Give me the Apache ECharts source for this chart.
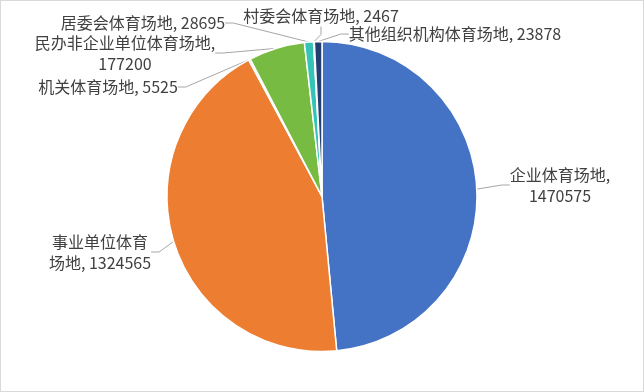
<!DOCTYPE html>
<html><head><meta charset="utf-8">
<script src="https://cdn.jsdelivr.net/npm/echarts@6/dist/echarts.min.js"></script>
<style>html,body{margin:0;padding:0;background:#fff}#c{width:642px;height:390px;border:1px solid #D9D9D9}</style>
</head><body><div id="c"></div>
<script>
const categories = ['企业体育场地','事业单位体育场地','机关体育场地','民办非企业单位体育场地','居委会体育场地','村委会体育场地','其他组织机构体育场地'];
const values = [1470575,1324565,5525,177200,28695,2467,23878];
const labelTexts = ['企业体育场地,\n1470575','事业单位体育\n场地, 1324565','机关体育场地, 5525','民办非企业单位体育场地,\n177200','居委会体育场地, 28695','村委会体育场地, 2467','其他组织机构体育场地, 23878'];
const colors = ['#4472C4','#ED7D31','#A5A5A5','#78BB42','#34C3B6','#FFC000','#223F72'];
const labelPos = [[559,184,'center'],[99,251,'center'],[107,86,'center'],[124,52,'center'],[142,22,'center'],[320,15,'center'],[454,33,'center']];

const chart = echarts.init(document.getElementById('c'));
chart.setOption({
  animation:false,
  series:[{
    type:'pie',
    center:[321,195.5],
    radius:[0,155],
    startAngle:90,
    clockwise:true,
    avoidLabelOverlap:false,
    itemStyle:{borderColor:'#fff',borderWidth:1.5},
    label:{
      show:true,
      color:'#404040',
      fontSize:16,
      lineHeight:21,
      fontFamily:'"Noto Sans CJK SC", sans-serif',
      formatter:p=>labelTexts[p.dataIndex]
    },
    labelLine:{show:true,length:10,length2:8,lineStyle:{color:'#A6A6A6',width:1},smooth:false},
    labelLayout:function(params){
      const lp = labelPos[params.dataIndex];
      return {x:lp[0], y:lp[1], align:lp[2], verticalAlign:'middle'};
    },
    data:categories.map((n,i)=>({name:n,value:values[i],itemStyle:{color:colors[i]}}))
  }]
});
</script></body></html>
